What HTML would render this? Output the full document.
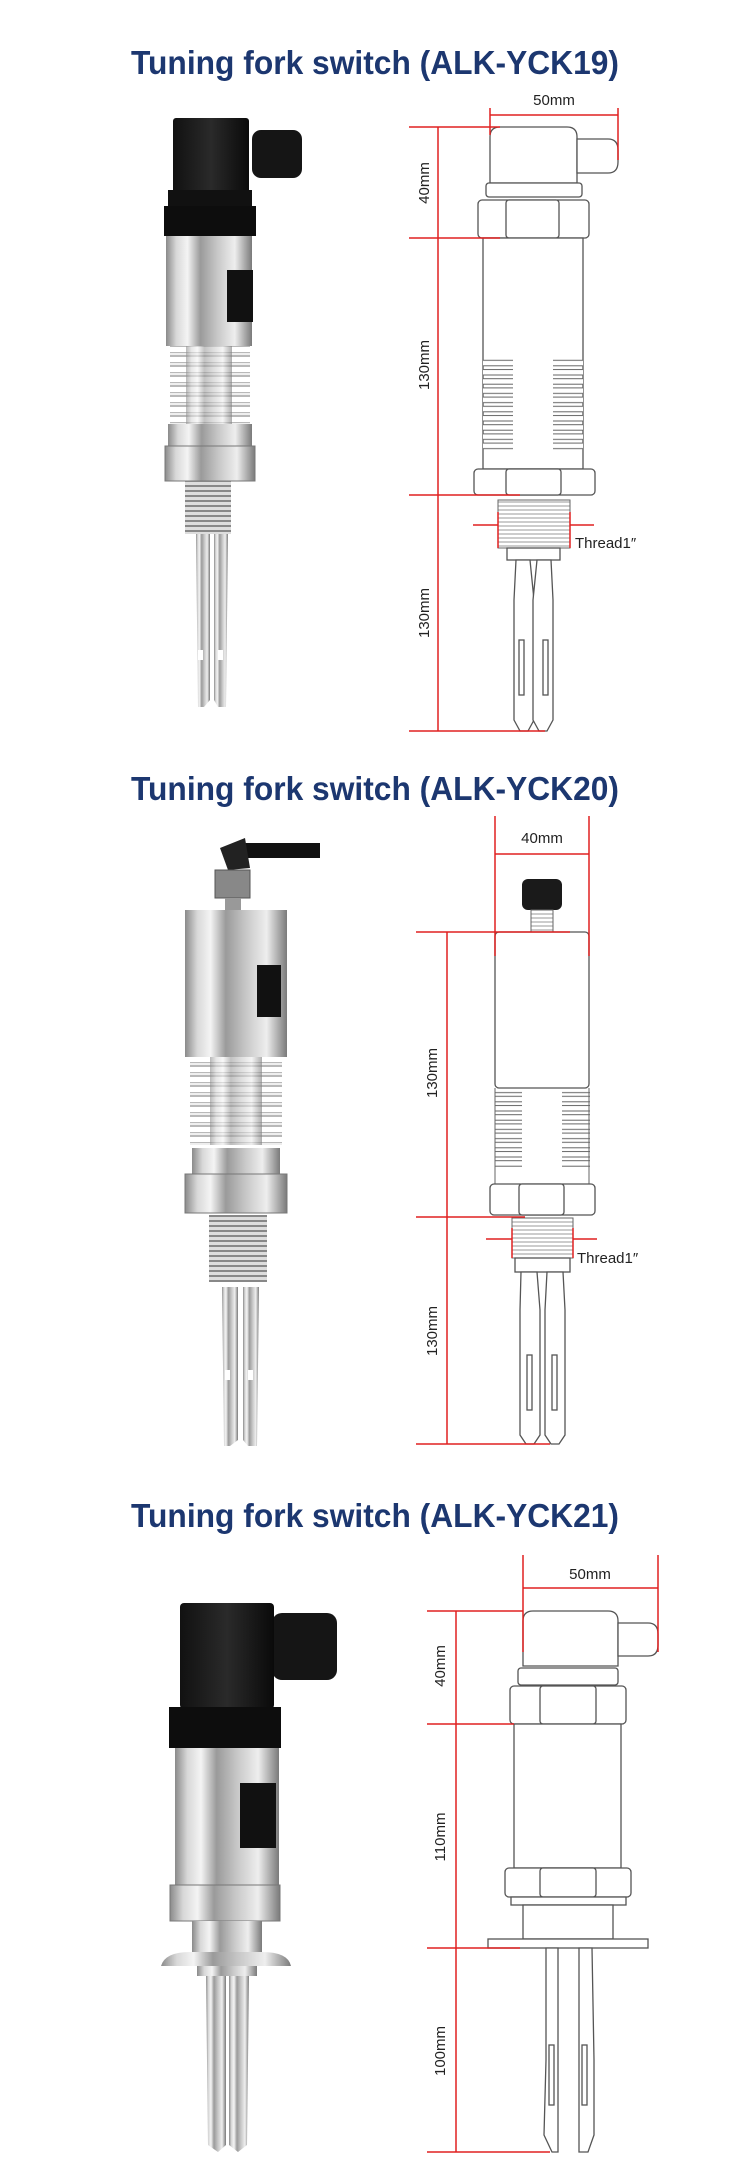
<!DOCTYPE html>
<html><head><meta charset="utf-8"><style>
html,body{margin:0;padding:0;background:#fff;}
svg{display:block;}
.t{font-family:"Liberation Sans",sans-serif;font-weight:bold;fill:#1c3770;font-size:33px;}
.d{font-family:"Liberation Sans",sans-serif;font-size:15px;fill:#222;}
.o{fill:#fff;stroke:#555;stroke-width:1.3;}
.r{stroke:#e02020;stroke-width:1.5;fill:none;}
.ra{fill:#e02020;}
</style></head><body>
<svg width="750" height="2175" viewBox="0 0 750 2175" xmlns="http://www.w3.org/2000/svg">
<defs>
<linearGradient id="st" x1="0" x2="1" y1="0" y2="0">
<stop offset="0" stop-color="#8a8a8a"/><stop offset="0.12" stop-color="#d8d8d8"/><stop offset="0.25" stop-color="#f4f4f4"/><stop offset="0.4" stop-color="#9a9a9a"/><stop offset="0.6" stop-color="#c8c8c8"/><stop offset="0.8" stop-color="#eeeeee"/><stop offset="1" stop-color="#7a7a7a"/>
</linearGradient>
<linearGradient id="bk" x1="0" x2="1"><stop offset="0" stop-color="#111"/><stop offset="0.5" stop-color="#2a2a2a"/><stop offset="1" stop-color="#0a0a0a"/></linearGradient>
<pattern id="fin" width="10" height="9.2" patternUnits="userSpaceOnUse"><rect x="-1" y="1.5" width="12" height="5.5" fill="#fff" stroke="#666" stroke-width="1"/></pattern>
<pattern id="pfin" width="10" height="10" patternUnits="userSpaceOnUse"><rect width="10" height="10" fill="#fff"/><rect y="2" width="10" height="5" fill="#b8b8b8"/><rect y="3" width="10" height="2" fill="#eee"/></pattern>
<pattern id="thr" width="10" height="5" patternUnits="userSpaceOnUse"><rect width="10" height="5" fill="#ddd"/><rect y="0" width="10" height="2" fill="#888"/></pattern>
<pattern id="dthr" width="10" height="4" patternUnits="userSpaceOnUse"><rect width="10" height="4" fill="#fff"/><line x1="0" y1="2" x2="10" y2="2" stroke="#999" stroke-width="1"/></pattern>
</defs>

<!-- ===== Section 1 ===== -->
<text class="t" x="375" y="74" text-anchor="middle" textLength="488" lengthAdjust="spacingAndGlyphs">Tuning fork switch (ALK-YCK19)</text>
<rect x="252" y="130" width="50" height="48" rx="9" fill="#151515"/>
<rect x="173" y="118" width="76" height="80" rx="3" fill="url(#bk)"/>
<rect x="168" y="190" width="84" height="16" fill="#111"/>
<rect x="164" y="206" width="92" height="30" fill="#0d0d0d"/>
<rect x="166" y="236" width="86" height="110" fill="url(#st)"/>
<rect x="227" y="270" width="26" height="52" fill="#111"/>
<rect x="170" y="346" width="80" height="78" fill="url(#pfin)"/>
<rect x="186" y="346" width="46" height="78" fill="url(#st)" opacity="0.6"/>
<rect x="168" y="424" width="84" height="22" fill="url(#st)"/>
<rect x="165" y="446" width="90" height="35" fill="url(#st)" stroke="#777"/>
<rect x="185" y="481" width="46" height="53" fill="url(#thr)"/>
<path d="M196 534 L210 534 L210 700 L204 707 L198 707 Z" fill="url(#st)"/>
<path d="M214 534 L228 534 L226 707 L218 707 L214 700 Z" fill="url(#st)"/>
<rect x="198" y="650" width="5" height="10" fill="#fff"/><rect x="218" y="650" width="5" height="10" fill="#fff"/>
<path class="o" d="M490 183 L490 137 Q490 127 500 127 L567 127 Q577 127 577 137 L577 183 Z"/>
<path class="o" d="M577 139 L608 139 Q618 139 618 150 L618 162 Q618 173 608 173 L577 173 Z"/>
<rect class="o" x="486" y="183" width="96" height="14" rx="3"/>
<rect class="o" x="478" y="200" width="111" height="38" rx="4"/>
<rect class="o" x="506" y="200" width="53" height="38" rx="3"/>
<rect class="o" x="483" y="238" width="100" height="231"/>
<rect x="483" y="358" width="30" height="92" fill="url(#fin)"/>
<rect x="553" y="358" width="30" height="92" fill="url(#fin)"/>
<rect x="513" y="358" width="40" height="92" fill="#fff"/>
<rect class="o" x="474" y="469" width="121" height="26" rx="4"/>
<rect class="o" x="506" y="469" width="55" height="26" rx="3"/>
<rect x="498" y="500" width="72" height="48" fill="url(#dthr)" stroke="#666"/>
<rect class="o" x="507" y="548" width="53" height="12"/>
<path class="o" d="M516 560 L530 560 L534 600 L534 720 L528 731 L520 731 L514 720 L514 600 Z"/>
<path class="o" d="M537 560 L551 560 L553 600 L553 720 L547 731 L539 731 L533 720 L533 600 Z"/>
<rect class="o" x="519" y="640" width="5" height="55"/><rect class="o" x="543" y="640" width="5" height="55"/>
<text class="d" x="554" y="105" text-anchor="middle">50mm</text>
<line class="r" x1="490" y1="115" x2="618" y2="115"/><line class="r" x1="490" y1="108" x2="490" y2="135"/><line class="r" x1="618" y1="108" x2="618" y2="160"/>
<line class="r" x1="438" y1="127" x2="438" y2="731"/>
<line class="r" x1="409" y1="127" x2="500" y2="127"/><line class="r" x1="409" y1="238" x2="500" y2="238"/><line class="r" x1="409" y1="495" x2="520" y2="495"/><line class="r" x1="409" y1="731" x2="545" y2="731"/>
<text class="d" transform="translate(429 183) rotate(-90)" text-anchor="middle">40mm</text>
<text class="d" transform="translate(429 365) rotate(-90)" text-anchor="middle">130mm</text>
<text class="d" transform="translate(429 613) rotate(-90)" text-anchor="middle">130mm</text>
<line class="r" x1="473" y1="525" x2="498" y2="525"/><line class="r" x1="570" y1="525" x2="594" y2="525"/>
<line class="r" x1="498" y1="512" x2="498" y2="548"/><line class="r" x1="570" y1="512" x2="570" y2="548"/>
<text class="d" x="575" y="548">Thread1″</text>

<!-- ===== Section 2 ===== -->
<text class="t" x="375" y="800" text-anchor="middle" textLength="488" lengthAdjust="spacingAndGlyphs">Tuning fork switch (ALK-YCK20)</text>
<rect x="240" y="843" width="80" height="15" fill="#111"/>
<path d="M220 848 L245 838 L250 868 L228 870 Z" fill="#222"/>
<rect x="215" y="870" width="35" height="28" fill="#888" stroke="#555"/>
<rect x="225" y="898" width="16" height="12" fill="#999"/>
<rect x="185" y="910" width="102" height="147" fill="url(#st)"/>
<rect x="257" y="965" width="24" height="52" fill="#111"/>
<rect x="190" y="1057" width="92" height="88" fill="url(#pfin)"/>
<rect x="210" y="1057" width="52" height="88" fill="url(#st)" opacity="0.6"/>
<rect x="192" y="1148" width="88" height="26" fill="url(#st)"/>
<rect x="185" y="1174" width="102" height="39" fill="url(#st)" stroke="#777"/>
<rect x="209" y="1215" width="58" height="67" fill="url(#thr)"/>
<path d="M222 1287 L238 1287 L238 1440 L230 1446 L224 1446 Z" fill="url(#st)"/>
<path d="M243 1287 L259 1287 L257 1446 L248 1446 L243 1440 Z" fill="url(#st)"/>
<rect x="225" y="1370" width="5" height="10" fill="#fff"/><rect x="248" y="1370" width="5" height="10" fill="#fff"/>
<rect x="522" y="879" width="40" height="31" rx="6" fill="#1a1a1a"/>
<rect x="531" y="910" width="22" height="22" fill="url(#dthr)" stroke="#666"/>
<rect class="o" x="495" y="932" width="94" height="156" rx="4"/>
<rect x="495" y="1090" width="27" height="77" fill="url(#fin)"/>
<rect x="562" y="1090" width="28" height="77" fill="url(#fin)"/>
<line x1="495" y1="1088" x2="495" y2="1184" stroke="#666"/><line x1="589" y1="1088" x2="589" y2="1184" stroke="#666"/>
<rect class="o" x="490" y="1184" width="105" height="31" rx="4"/>
<rect class="o" x="519" y="1184" width="45" height="31" rx="3"/>
<rect x="512" y="1218" width="61" height="40" fill="url(#dthr)" stroke="#666"/>
<rect class="o" x="515" y="1258" width="55" height="14"/>
<path class="o" d="M521 1272 L537 1272 L540 1310 L540 1435 L534 1444 L526 1444 L520 1435 L520 1310 Z"/>
<path class="o" d="M547 1272 L563 1272 L565 1310 L565 1435 L559 1444 L551 1444 L545 1435 L545 1310 Z"/>
<rect class="o" x="527" y="1355" width="5" height="55"/><rect class="o" x="552" y="1355" width="5" height="55"/>
<text class="d" x="542" y="843" text-anchor="middle">40mm</text>
<line class="r" x1="495" y1="854" x2="589" y2="854"/><line class="r" x1="495" y1="816" x2="495" y2="956"/><line class="r" x1="589" y1="816" x2="589" y2="956"/>
<line class="r" x1="447" y1="932" x2="447" y2="1444"/>
<line class="r" x1="416" y1="932" x2="570" y2="932"/><line class="r" x1="416" y1="1217" x2="525" y2="1217"/><line class="r" x1="416" y1="1444" x2="550" y2="1444"/>
<text class="d" transform="translate(437 1073) rotate(-90)" text-anchor="middle">130mm</text>
<text class="d" transform="translate(437 1331) rotate(-90)" text-anchor="middle">130mm</text>
<line class="r" x1="486" y1="1239" x2="512" y2="1239"/><line class="r" x1="573" y1="1239" x2="597" y2="1239"/>
<line class="r" x1="512" y1="1228" x2="512" y2="1258"/><line class="r" x1="573" y1="1228" x2="573" y2="1258"/>
<text class="d" x="577" y="1263">Thread1″</text>

<!-- ===== Section 3 ===== -->
<text class="t" x="375" y="1527" text-anchor="middle" textLength="488" lengthAdjust="spacingAndGlyphs">Tuning fork switch (ALK-YCK21)</text>
<rect x="272" y="1613" width="65" height="67" rx="10" fill="#151515"/>
<rect x="180" y="1603" width="94" height="106" rx="4" fill="url(#bk)"/>
<rect x="169" y="1707" width="112" height="41" fill="#0d0d0d"/>
<rect x="175" y="1748" width="104" height="137" fill="url(#st)"/>
<rect x="240" y="1783" width="36" height="65" fill="#111"/>
<rect x="170" y="1885" width="110" height="36" fill="url(#st)" stroke="#777"/>
<rect x="192" y="1921" width="70" height="31" fill="url(#st)"/>
<path d="M161 1966 Q165 1952 190 1952 L262 1952 Q288 1952 291 1966 Z" fill="url(#st)"/>
<rect x="197" y="1966" width="60" height="10" fill="url(#st)"/>
<path d="M206 1976 L226 1976 L226 2145 L218 2152 L208 2145 Z" fill="url(#st)"/>
<path d="M229 1976 L249 1976 L247 2145 L238 2152 L229 2145 Z" fill="url(#st)"/>
<path class="o" d="M523 1666 L523 1621 Q523 1611 533 1611 L608 1611 Q618 1611 618 1621 L618 1666 Z"/>
<path class="o" d="M618 1623 L648 1623 Q658 1623 658 1634 L658 1645 Q658 1656 648 1656 L618 1656 Z"/>
<rect class="o" x="518" y="1668" width="100" height="17" rx="3"/>
<rect class="o" x="510" y="1686" width="116" height="38" rx="4"/>
<rect class="o" x="540" y="1686" width="56" height="38" rx="3"/>
<rect class="o" x="514" y="1724" width="107" height="144"/>
<rect class="o" x="505" y="1868" width="126" height="29" rx="4"/>
<rect class="o" x="540" y="1868" width="56" height="29" rx="3"/>
<rect class="o" x="511" y="1897" width="115" height="8"/>
<rect class="o" x="523" y="1905" width="90" height="34"/>
<rect class="o" x="488" y="1939" width="160" height="9"/>
<path class="o" d="M546 1948 L558 1948 L558 2152 L552 2152 L544 2135 L546 2060 Z"/>
<path class="o" d="M579 1948 L592 1948 L594 2060 L594 2135 L588 2152 L579 2152 Z"/>
<rect class="o" x="549" y="2045" width="5" height="60"/><rect class="o" x="582" y="2045" width="5" height="60"/>
<text class="d" x="590" y="1579" text-anchor="middle">50mm</text>
<line class="r" x1="523" y1="1588" x2="658" y2="1588"/><line class="r" x1="523" y1="1555" x2="523" y2="1652"/><line class="r" x1="658" y1="1555" x2="658" y2="1652"/>
<line class="r" x1="456" y1="1611" x2="456" y2="2152"/>
<line class="r" x1="427" y1="1611" x2="523" y2="1611"/><line class="r" x1="427" y1="1724" x2="514" y2="1724"/><line class="r" x1="427" y1="1948" x2="520" y2="1948"/><line class="r" x1="427" y1="2152" x2="550" y2="2152"/>
<text class="d" transform="translate(445 1666) rotate(-90)" text-anchor="middle">40mm</text>
<text class="d" transform="translate(445 1837) rotate(-90)" text-anchor="middle">110mm</text>
<text class="d" transform="translate(445 2051) rotate(-90)" text-anchor="middle">100mm</text>
</svg>
</body></html>
